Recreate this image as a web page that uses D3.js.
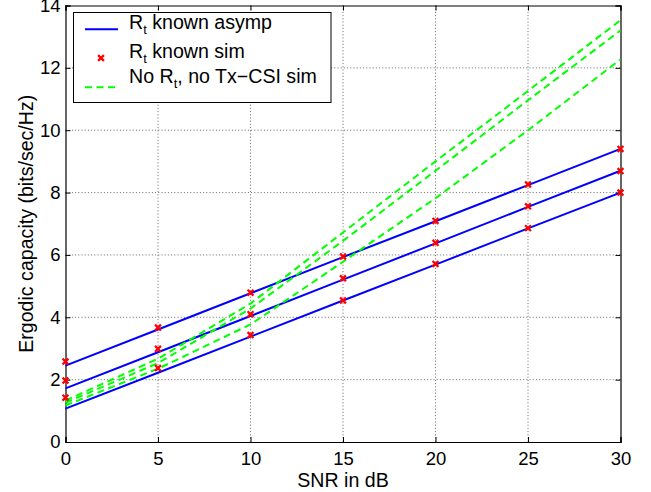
<!DOCTYPE html>
<html>
<head>
<meta charset="utf-8">
<script src="https://cdn.jsdelivr.net/npm/d3@7"></script>
<style>
  html, body { margin: 0; padding: 0; background: #fff; }
  svg { display: block; font-family: "Liberation Sans", Arial, Helvetica, sans-serif; }
</style>
</head>
<body>
<svg id="chart" width="651" height="492"></svg>
<script>
// ---- data ----
const snr = [0, 5, 10, 15, 20, 25, 30];
const xTicks = [0, 5, 10, 15, 20, 25, 30];
const yTicks = [0, 2, 4, 6, 8, 10, 12, 14];

// R_t known asymptotic (blue solid)
const asympHigh = [2.45, 3.61, 4.77, 5.93, 7.08, 8.24, 9.40];
const asympMid  = [1.72, 2.88, 4.04, 5.21, 6.37, 7.54, 8.70];
const asympLow  = [1.07, 2.22, 3.38, 4.54, 5.69, 6.85, 8.00];

// R_t known simulation (red x)
const simHigh = [2.58, 3.67, 4.79, 5.95, 7.09, 8.26, 9.40];
const simMid  = [1.97, 2.99, 4.10, 5.25, 6.39, 7.56, 8.69];
const simLow  = [1.42, 2.37, 3.43, 4.54, 5.71, 6.86, 8.00];

// No R_t, no Tx-CSI simulation (green dashed)
const noCsiA = [1.33, 2.67, 4.44, 6.72, 9.00, 11.26, 13.53];
const noCsiB = [1.26, 2.53, 4.28, 6.45, 8.70, 10.96, 13.20];
const noCsiC = [1.17, 2.35, 3.77, 5.78, 7.82, 10.00, 12.27];

const xLabel = "SNR in dB";
const yLabel = "Ergodic capacity (bits/sec/Hz)";

// ---- layout ----
const L = 65.5, R = 620.5, T = 5.5, B = 442;
const svg = d3.select("#chart");
const x = d3.scaleLinear().domain([0, 30]).range([L, R]);
const y = d3.scaleLinear().domain([0, 14]).range([B, T]);
const TFS = 18.5;   // tick font
const LFS = 19.6;   // label / legend font

// grid
const grid = svg.append("g");
grid.selectAll("line.gx").data(xTicks.slice(1, -1)).join("line")
  .attr("x1", d => x(d)).attr("x2", d => x(d)).attr("y1", T).attr("y2", B)
  .attr("stroke", "#444").attr("stroke-width", 0.8).attr("stroke-dasharray", "1,2.2");
grid.selectAll("line.gy").data(yTicks.slice(1, -1)).join("line")
  .attr("y1", d => y(d)).attr("y2", d => y(d)).attr("x1", L).attr("x2", R)
  .attr("stroke", "#444").attr("stroke-width", 0.8).attr("stroke-dasharray", "1,2.2");

// axes with inward ticks on all sides
const tk = 5;
const axB = d3.axisBottom(x).tickValues(xTicks).tickSize(-tk).tickPadding(10).tickFormat(d3.format("d"));
const axT = d3.axisTop(x).tickValues(xTicks).tickSize(-tk).tickFormat("");
const axL = d3.axisLeft(y).tickValues(yTicks).tickSize(-tk).tickPadding(5).tickFormat(d3.format("d"));
const axR = d3.axisRight(y).tickValues(yTicks).tickSize(-tk).tickFormat("");
function styleAxis(g) {
  g.select(".domain").attr("stroke", "#000").attr("stroke-width", 1.2);
  g.selectAll(".tick line").attr("stroke", "#000").attr("stroke-width", 1);
  g.selectAll(".tick text").attr("fill", "#000").style("font-size", TFS + "px").style("font-family", "Liberation Sans, Arial, sans-serif");
}
svg.append("g").attr("transform", `translate(0,${B})`).call(axB).call(styleAxis);
svg.append("g").attr("transform", `translate(0,${T})`).call(axT).call(styleAxis);
svg.append("g").attr("transform", `translate(${L},0)`).call(axL).call(styleAxis);
svg.append("g").attr("transform", `translate(${R},0)`).call(axR).call(styleAxis);

// lines
const line = d3.line().x((d, i) => x(snr[i])).y(d => y(d));
const plot = svg.append("g");
[asympHigh, asympMid, asympLow].forEach(s => {
  plot.append("path").attr("d", line(s)).attr("fill", "none")
    .attr("stroke", "#0000ff").attr("stroke-width", 2);
});
[noCsiA, noCsiB, noCsiC].forEach(s => {
  plot.append("path").attr("d", line(s)).attr("fill", "none")
    .attr("stroke", "#00ff00").attr("stroke-width", 2).attr("stroke-dasharray", "7,4.5");
});
const cross = d3.symbol().type(d3.symbolX).size(24);
[simHigh, simMid, simLow].forEach(s => {
  plot.selectAll(null).data(s).join("path")
    .attr("transform", (d, i) => `translate(${x(snr[i])},${y(d)})`)
    .attr("d", cross).attr("fill", "none").attr("stroke", "#ff0000").attr("stroke-width", 2.3);
});

// axis labels
svg.append("text").attr("x", (L + R) / 2).attr("y", 486.5).attr("text-anchor", "middle")
  .style("font-size", LFS + "px").text(xLabel);
svg.append("text").attr("transform", `translate(33,${(T + B) / 2}) rotate(-90)`)
  .attr("text-anchor", "middle").style("font-size", LFS + "px").text(yLabel);

// legend
const lg = svg.append("g");
lg.append("rect").attr("x", 73.5).attr("y", 12.5).attr("width", 257.5).attr("height", 90)
  .attr("fill", "#fff").attr("stroke", "#000").attr("stroke-width", 1);
const items = [
  { kind: "line", sy: 29.3, ty: 28.5, parts: [["R"], ["t", true], [" known asymp"]] },
  { kind: "mark", sy: 58, ty: 57.5, parts: [["R"], ["t", true], [" known sim"]] },
  { kind: "dash", sy: 87.3, ty: 82.5, parts: [["No R"], ["t", true], [", no Tx\u2212CSI sim"]] }
];
items.forEach(it => {
  if (it.kind === "line") {
    lg.append("line").attr("x1", 85).attr("x2", 118).attr("y1", it.sy).attr("y2", it.sy)
      .attr("stroke", "#0000ff").attr("stroke-width", 2);
  } else if (it.kind === "mark") {
    lg.append("path").attr("transform", `translate(101,${it.sy})`).attr("d", cross)
      .attr("fill", "none").attr("stroke", "#ff0000").attr("stroke-width", 2.3);
  } else {
    lg.append("line").attr("x1", 85).attr("x2", 118).attr("y1", it.sy).attr("y2", it.sy)
      .attr("stroke", "#00ff00").attr("stroke-width", 2).attr("stroke-dasharray", "7,4.5");
  }
  const t = lg.append("text").attr("x", 129).attr("y", it.ty).style("font-size", LFS + "px");
  it.parts.forEach((p, k) => {
    if (p[1]) {
      t.append("tspan").attr("dy", 5.5).style("font-size", "13px").text(p[0]);
    } else {
      const ts = t.append("tspan").text(p[0]);
      if (k > 0) ts.attr("dy", -5.5);
    }
  });
});
</script>
</body>
</html>
